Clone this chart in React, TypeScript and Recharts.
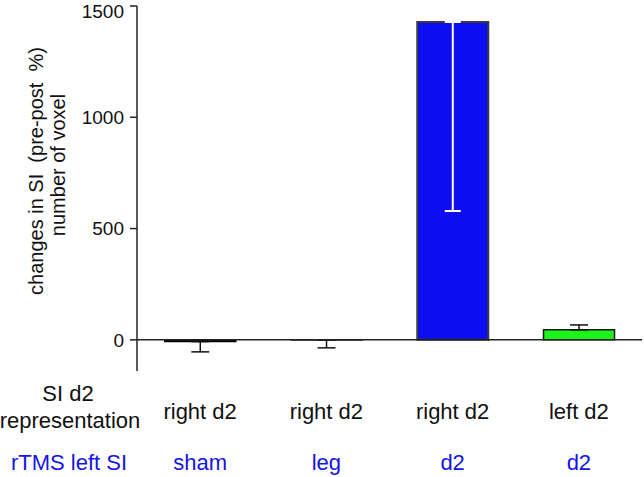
import React from 'react';
import { BarChart, Bar, XAxis, YAxis, ErrorBar, ReferenceLine, Cell } from 'recharts';

const representation = ['right d2', 'right d2', 'right d2', 'left d2'];
const rtmsTarget = ['sham', 'leg', 'd2', 'd2'];
const changes = [-8, -1, 1428, 45];
const errLow = [46, 35, 849, 0];
const errHigh = [0, 0, 0, 22];
const errIsWhite = [false, false, true, false];
const yTicks = [0, 500, 1000, 1500];
const yDomain = [-140, 1500];

const barFills = ['#000000', '#000000', '#0d0df2', '#1cf51c'];
const barStrokes = ['#000000', '#222222', '#3a3a3a', '#1a1a1a'];

const data = representation.map((rep, i) => ({
  rep,
  target: rtmsTarget[i],
  value: changes[i],
  errWhite: errIsWhite[i] ? [errLow[i], errHigh[i]] : undefined,
  errBlack: !errIsWhite[i] ? [errLow[i], errHigh[i]] : undefined,
}));

const FONT = 'Liberation Sans, Arial, Helvetica, sans-serif';
const BLUE_TEXT = '#1414e6';

const CatTick = (props: any) => {
  const { x, payload } = props;
  const i = payload.index;
  return (
    <g>
      <text x={x} y={419} textAnchor="middle" fontSize={22} fontFamily={FONT} fill="#111">
        {representation[i]}
      </text>
      <text x={x} y={470} textAnchor="middle" fontSize={22} fontFamily={FONT} fill={BLUE_TEXT}>
        {rtmsTarget[i]}
      </text>
    </g>
  );
};

const RowHeaders = () => (
  <g>
    <text x={68} y={401} textAnchor="middle" fontSize={22} fontFamily={FONT} fill="#111">SI d2</text>
    <text x={70} y={428} textAnchor="middle" fontSize={22} fontFamily={FONT} fill="#111">representation</text>
    <text x={69} y={470} textAnchor="middle" fontSize={22} fontFamily={FONT} fill={BLUE_TEXT}>rTMS left SI</text>
  </g>
);

const YLabel = () => (
  <g>
    <text transform="rotate(-90)" x={-171} y={43} textAnchor="middle" fontSize={20} fontFamily={FONT} fill="#111" style={{ whiteSpace: 'pre' }}>
      {'changes in SI  (pre-post  %)'}
    </text>
    <text transform="rotate(-90)" x={-165} y={65} textAnchor="middle" fontSize={20} fontFamily={FONT} fill="#111">
      number of voxel
    </text>
  </g>
);

export default function App() {
  return (
    <div style={{ position: 'absolute', left: 0, top: 0, width: 644, height: 477, background: '#fff' }}>
      <BarChart
        width={644}
        height={477}
        data={data}
        margin={{ top: 6, right: 2, bottom: 6, left: 0 }}
        barCategoryGap="22%"
      >
        <XAxis
          dataKey="rep"
          height={100}
          axisLine={false}
          tickLine={false}
          interval={0}
          tick={<CatTick />}
          label={<RowHeaders />}
        />
        <YAxis
          width={137}
          domain={yDomain}
          ticks={yTicks}
          allowDataOverflow
          axisLine={{ stroke: '#222', strokeWidth: 1.5 }}
          tickLine={{ stroke: '#222', strokeWidth: 1.5 }}
          tickSize={7}
          tickMargin={6}
          tick={{ fontSize: 19, fontFamily: FONT, fill: '#111' }}
          label={<YLabel />}
        />
        <Bar dataKey="value" isAnimationActive={false}>
          {data.map((d, i) => (
            <Cell key={i} fill={barFills[i]} stroke={barStrokes[i]} strokeWidth={i === 2 ? 2 : 1.5} />
          ))}
          <ErrorBar dataKey="errBlack" width={9} stroke="#111" strokeWidth={1.5} isAnimationActive={false} />
          <ErrorBar dataKey="errWhite" width={8} stroke="#ffffff" strokeWidth={2} isAnimationActive={false} />
        </Bar>
        <ReferenceLine y={0} stroke="#222" strokeWidth={1.5} />
      </BarChart>
    </div>
  );
}
